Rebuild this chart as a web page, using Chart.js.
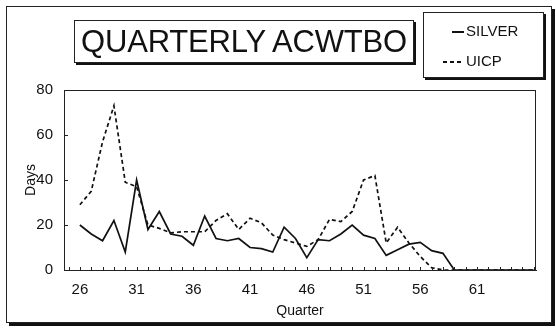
<!DOCTYPE html>
<html>
<head>
<meta charset="utf-8">
<script src="https://cdn.jsdelivr.net/npm/chart.js@4"></script>
<style>
  html, body { margin: 0; padding: 0; background: #fff; }
  #wrap { position: relative; width: 556px; height: 331px; overflow: hidden; font-family: "Liberation Sans", Arial, sans-serif; color: #111; }
  #c { position: absolute; left: 0; top: 0; }
  #frame { position: absolute; left: 6px; top: 6px; width: 544px; height: 315px; border: 1px solid #222; box-shadow: 3px 3px 0 #111; }
  #title { position: absolute; left: 74px; top: 20px; width: 338px; height: 41px; border: 1px solid #222; box-shadow: 2px 2px 0 #111; font-size: 31px; line-height: 42px; text-align: center; white-space: nowrap; background: #fff; letter-spacing: -0.2px; }
  #legend { position: absolute; left: 423px; top: 12px; width: 119px; height: 64px; border: 1px solid #222; box-shadow: 2px 2px 0 #111; font-size: 15px; background: #fff; }
  .item { position: absolute; white-space: nowrap; line-height: 18px; }
  .sample { display: inline-block; vertical-align: middle; margin-right: 2px; height: 1.6px; }
</style>
</head>
<body>
<div id="wrap">
  <div id="frame"></div>
  <canvas id="c" width="556" height="331"></canvas>
  <div id="title">QUARTERLY ACWTBO</div>
  <div id="legend">
    <div class="item" style="left:28px; top:9px;"><span class="sample" style="width:12px; background:#111;"></span>SILVER</div>
    <div class="item" style="left:19px; top:39px;"><span class="sample" style="width:21px; background:repeating-linear-gradient(to right, #111 0 4px, transparent 4px 7px);"></span>UICP</div>
  </div>
</div>
<script>
const quarters = [26,27,28,29,30,31,32,33,34,35,36,37,38,39,40,41,42,43,44,45,46,47,48,49,50,51,52,53,54,55,56,57,58,59,60,61,62,63,64,65,66];
const silver   = [20,16,13,22,8,40,18,26,16,15,11,24,14,13,14,10,9.5,8,19,14,5.5,13.5,13,16,20,15.5,14,6.5,9,11.5,12.3,8.6,7.4,0,0,0,0,0,0,0,0];
const uicp     = [29,35,57,73,39,37,20,18.5,16.5,17,17,17,22,25,18,23,21,15.5,13.5,12,10.5,13.5,22.5,21.5,26,40,42,12,19,12,6,1,0,0,0,0,0,0,0,0,0];
const xTickLabels = [26,31,36,41,46,51,56,61];
const yTickLabels = [0,20,40,60,80];

const toPts = arr => quarters.map((q, i) => ({x: q, y: arr[i]}));

const frameAndTicks = {
  id: 'frameAndTicks',
  afterDraw(chart) {
    const {ctx, chartArea: a, scales: {x, y}} = chart;
    ctx.save();
    ctx.strokeStyle = '#222';
    ctx.lineWidth = 1;
    ctx.strokeRect(a.left + 0.5, a.top + 0.5, a.right - a.left - 1, a.bottom - a.top);
    ctx.beginPath();
    for (let q = 25; q <= 66; q++) {
      const px = Math.round(x.getPixelForValue(q)) + 0.5;
      ctx.moveTo(px, a.bottom);
      ctx.lineTo(px, a.bottom - 3);
    }
    yTickLabels.forEach(v => {
      const py = Math.round(y.getPixelForValue(v)) + 0.5;
      ctx.moveTo(a.left, py);
      ctx.lineTo(a.left + 4, py);
    });
    ctx.stroke();
    ctx.restore();
  }
};

new Chart(document.getElementById('c'), {
  type: 'line',
  data: {
    datasets: [
      { label: 'SILVER', data: toPts(silver), borderColor: '#111', borderWidth: 1.7, pointRadius: 0, tension: 0, fill: false },
      { label: 'UICP', data: toPts(uicp), borderColor: '#111', borderWidth: 1.7, borderDash: [4, 3], pointRadius: 0, tension: 0, fill: false }
    ]
  },
  options: {
    responsive: false,
    animation: false,
    devicePixelRatio: 1,
    layout: { padding: { left: 6, right: 20, top: 90, bottom: 0 } },
    plugins: { legend: { display: false }, title: { display: false }, tooltip: { enabled: false } },
    scales: {
      x: {
        type: 'linear', min: 24.6, max: 66.2,
        afterBuildTicks: s => { s.ticks = xTickLabels.map(v => ({value: v})); },
        afterFit: s => { s.height = 61; },
        grid: { display: false, drawTicks: false },
        border: { display: true, color: '#222', width: 1 },
        ticks: { color: '#111', font: { family: 'Liberation Sans', size: 15 }, padding: 11, maxRotation: 0, autoSkip: false },
        title: { display: true, text: 'Quarter', color: '#111', font: { family: 'Liberation Sans', size: 14 }, padding: { top: 0, bottom: 11.6 } }
      },
      y: {
        min: 0, max: 80,
        afterBuildTicks: s => { s.ticks = yTickLabels.map(v => ({value: v})); },
        afterFit: s => { s.width = 58; },
        grid: { display: false, drawTicks: false },
        border: { display: true, color: '#222', width: 1 },
        ticks: { color: '#111', font: { family: 'Liberation Sans', size: 15 }, padding: 11 },
        title: { display: true, text: 'Days', color: '#111', font: { family: 'Liberation Sans', size: 14 }, padding: { top: 17, bottom: 0 } }
      }
    }
  },
  plugins: [frameAndTicks]
});
</script>
</body>
</html>
